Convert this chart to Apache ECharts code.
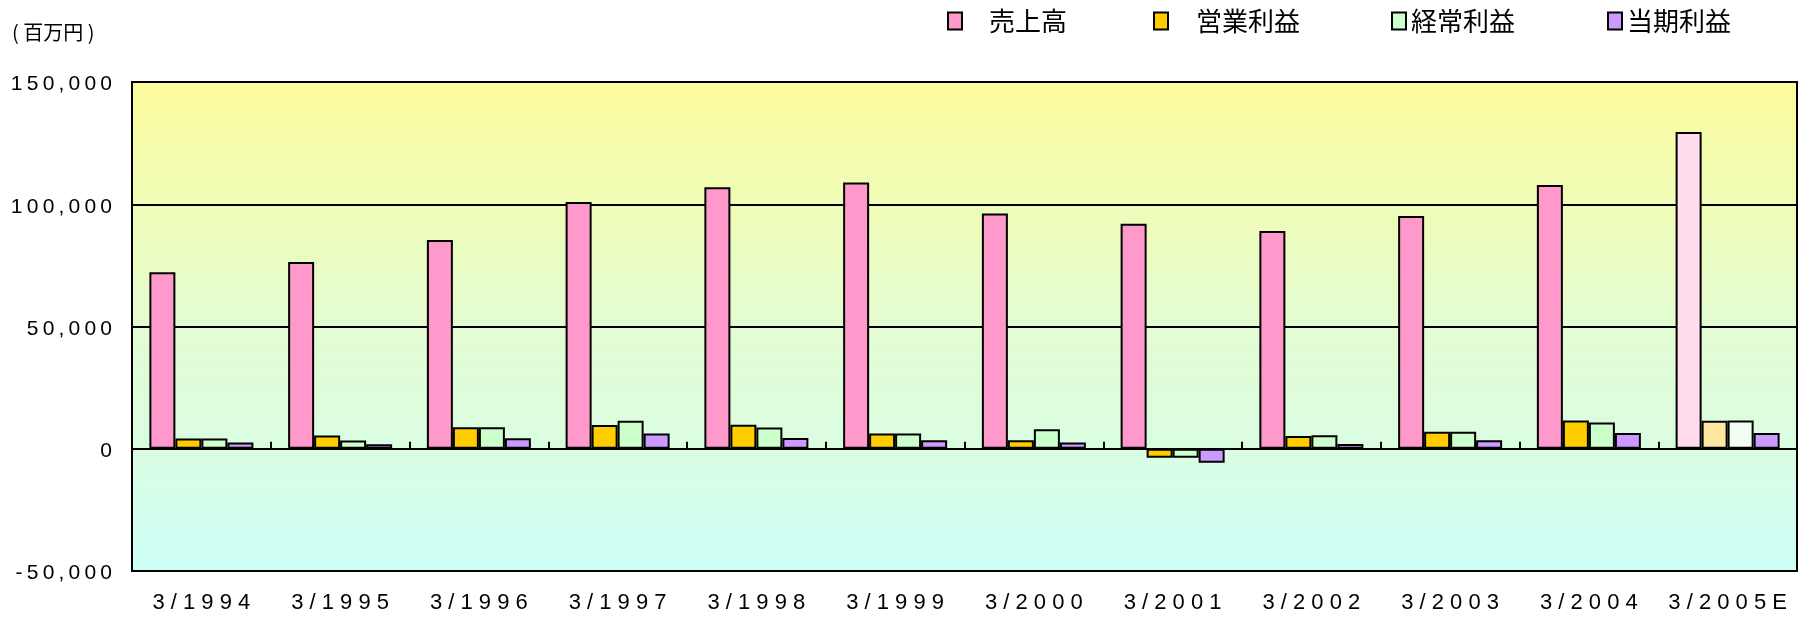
<!DOCTYPE html>
<html>
<head>
<meta charset="utf-8">
<script src="https://cdn.jsdelivr.net/npm/echarts@6/dist/echarts.min.js"></script>
<style>
  html, body { margin: 0; padding: 0; background: #fff; }
  #chart { width: 1810px; height: 620px; }
</style>
</head>
<body>
<div id="chart"></div>
<script>
// 決算期
const categories = ['3/1994', '3/1995', '3/1996', '3/1997', '3/1998', '3/1999',
  '3/2000', '3/2001', '3/2002', '3/2003', '3/2004', '3/2005E']
// 単位：百万円
const sales = [72200, 76400, 85400, 100900, 107000, 108900, 96200, 92000, 89100, 95200, 107900, 129500]
const operatingProfit = [4200, 5400, 8800, 9700, 9800, 6200, 3500, -3700, 5200, 7000, 11600, 11500]
const ordinaryProfit = [4200, 3400, 8800, 11500, 8700, 6200, 8000, -3700, 5500, 7000, 10700, 11600]
const netProfit = [2600, 1800, 4300, 6200, 4400, 3500, 2600, -5700, 1900, 3500, 6400, 6400]
const seriesNames = ['売上高', '営業利益', '経常利益', '当期利益']
const yTicks = [-50000, 0, 50000, 100000, 150000]

const colors = ['#FF99CC', '#FFCC00', '#CCFFCC', '#CC99FF']
const estColors = ['#FFDDEE', '#FFE8A0', '#F2FFF0', '#CC99FF'] // 予想値(3/2005E)
const estIndex = categories.length - 1

const chart = echarts.init(document.getElementById('chart'))

const spaced = (s, sep) => String(s).split('').join(sep)
const fmt = v => v.toLocaleString('en-US')

const buildData = (values, k) => values.map((v, i) => {
  if (i === estIndex) {
    return { value: v, itemStyle: { color: estColors[k] } }
  }
  return v
})

const legendPos = [
  { left: 947, pad: 22 },
  { left: 1153, pad: 23 },
  { left: 1391, pad: 0 },
  { left: 1607, pad: 0 }
]

const option = {
  animation: false,
  title: {
    text: '( 百万円 )',
    left: 12,
    top: 22,
    padding: 0,
    textStyle: { fontSize: 20, fontWeight: 'normal', color: '#000', fontFamily: 'Noto Sans CJK JP' }
  },
  legend: seriesNames.map((name, k) => ({
    data: [name],
    left: legendPos[k].left,
    top: 8,
    padding: 0,
    icon: 'rect',
    itemWidth: 14,
    itemHeight: 17,
    itemStyle: { borderColor: '#000', borderWidth: 2 },
    textStyle: {
      fontSize: 26,
      color: '#000',
      fontFamily: 'Noto Sans CJK JP',
      padding: [0, 0, 0, legendPos[k].pad]
    }
  })),
  grid: {
    left: 132,
    right: 13,
    top: 82,
    bottom: 49,
    show: true,
    borderColor: '#000',
    borderWidth: 2,
    backgroundColor: new echarts.graphic.LinearGradient(0, 0, 0, 1, [
      { offset: 0, color: '#FCFC9C' },
      { offset: 0.5, color: '#E3FCD2' },
      { offset: 0.75, color: '#DAFDE2' },
      { offset: 1, color: '#CCFFF8' }
    ]),
    containLabel: false
  },
  xAxis: [
    {
      type: 'category',
      data: categories,
      position: 'bottom',
      axisLine: { onZero: true, lineStyle: { color: '#000', width: 2 } },
      axisTick: { show: true, inside: true, length: 7, lineStyle: { color: '#000', width: 2 } },
      axisLabel: { show: false },
      splitLine: { show: false }
    },
    {
      type: 'category',
      data: categories,
      position: 'bottom',
      axisLine: { show: false, onZero: false },
      axisTick: { show: false },
      axisLabel: {
        interval: 0,
        margin: 21,
        fontSize: 22,
        color: '#000',
        fontFamily: 'Liberation Sans',
        formatter: v => spaced(v, ' ')
      },
      splitLine: { show: false }
    }
  ],
  yAxis: {
    type: 'value',
    min: yTicks[0],
    max: yTicks[yTicks.length - 1],
    interval: 50000,
    axisLine: { show: false },
    axisTick: { show: false },
    axisLabel: {
      margin: 20,
      fontSize: 21,
      color: '#000',
      fontFamily: 'Liberation Sans',
      verticalAlign: 'top',
      padding: [-8, 0, 0, 0],
      formatter: v => spaced(fmt(v), '\u2009')
    },
    splitLine: { show: true, lineStyle: { color: '#000', width: 2 } }
  },
  series: [sales, operatingProfit, ordinaryProfit, netProfit].map((values, k) => ({
    name: seriesNames[k],
    type: 'bar',
    xAxisIndex: 0,
    barWidth: 26,
    barGap: '0%',
    itemStyle: { color: colors[k], borderColor: '#000', borderWidth: 2 },
    data: buildData(values, k)
  }))
}

chart.setOption(option)
</script>
</body>
</html>
